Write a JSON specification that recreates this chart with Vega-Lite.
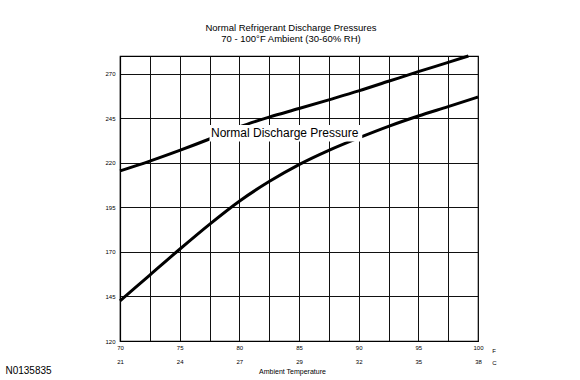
{
  "$schema": "https://vega.github.io/schema/vega-lite/v6.json",
  "width": 358,
  "height": 285,
  "autosize": {"type": "none"},
  "padding": {"left": 120, "top": 56, "right": 102, "bottom": 39},
  "background": "white",
  "config": {
    "font": "Liberation Sans",
    "view": {"stroke": "#000", "strokeWidth": 1.2}
  },
  "title": {
    "text": ["Normal Refrigerant Discharge Pressures", "70 - 100°F Ambient (30-60% RH)"],
    "fontSize": 9.5,
    "fontWeight": "normal",
    "color": "#000",
    "offset": 7,
    "lineHeight": 11,
    "dx": -8
  },
  "data": {
    "values": [
      {"series": "upper", "temp": 70, "pressure": 215.5},
      {"series": "upper", "temp": 72.5, "pressure": 221},
      {"series": "upper", "temp": 75, "pressure": 227},
      {"series": "upper", "temp": 77.5, "pressure": 233.4},
      {"series": "upper", "temp": 80, "pressure": 240.2},
      {"series": "upper", "temp": 82.5, "pressure": 245.7},
      {"series": "upper", "temp": 85, "pressure": 250.5},
      {"series": "upper", "temp": 87.5, "pressure": 255.4},
      {"series": "upper", "temp": 90, "pressure": 260.4},
      {"series": "upper", "temp": 92.5, "pressure": 265.8},
      {"series": "upper", "temp": 95, "pressure": 271.2},
      {"series": "upper", "temp": 97.5, "pressure": 276.4},
      {"series": "upper", "temp": 99.2, "pressure": 280},
      {"series": "lower", "temp": 70, "pressure": 142.5},
      {"series": "lower", "temp": 72.5, "pressure": 157},
      {"series": "lower", "temp": 75, "pressure": 171.5},
      {"series": "lower", "temp": 77.5, "pressure": 185.5},
      {"series": "lower", "temp": 80, "pressure": 198.5},
      {"series": "lower", "temp": 82.5, "pressure": 209.5},
      {"series": "lower", "temp": 85, "pressure": 219},
      {"series": "lower", "temp": 87.5, "pressure": 227},
      {"series": "lower", "temp": 90, "pressure": 234},
      {"series": "lower", "temp": 92.5, "pressure": 240.5},
      {"series": "lower", "temp": 95, "pressure": 246.3},
      {"series": "lower", "temp": 97.5, "pressure": 251.6},
      {"series": "lower", "temp": 100, "pressure": 257}
    ]
  },
  "layer": [
    {
      "mark": {"type": "line", "color": "#000", "strokeWidth": 3, "interpolate": "monotone"},
      "encoding": {
        "x": {
          "field": "temp",
          "type": "quantitative",
          "scale": {"domain": [70, 100], "nice": false, "zero": false},
          "axis": {
            "values": [70, 72.5, 75, 77.5, 80, 82.5, 85, 87.5, 90, 92.5, 95, 97.5, 100],
            "tickCount": 30,
            "labelExpr": "datum.value % 5 == 0 ? [format(datum.value, 'd'), format(round((datum.value - 32) * 5 / 9), 'd')] : ''",
            "labelLineHeight": 14,
            "labelFontSize": 6,
            "labelColor": "#000",
            "labelPadding": 3,
            "labelFlush": false,
            "labelOverlap": false,
            "ticks": false,
            "grid": true,
            "gridColor": "#111",
            "gridOpacity": 1,
            "gridWidth": 1,
            "domainColor": "#000",
            "domainWidth": 1.2,
            "title": "Ambient Temperature",
            "titleFontSize": 7,
            "titleFontWeight": "normal",
            "titleColor": "#000",
            "titlePadding": 3,
            "titleX": 172
          }
        },
        "y": {
          "field": "pressure",
          "type": "quantitative",
          "scale": {"domain": [120, 280], "nice": false, "zero": false},
          "axis": {
            "values": [120, 145, 170, 195, 220, 245, 270],
            "tickCount": 30,
            "labelFontSize": 6,
            "labelColor": "#000",
            "labelPadding": 5,
            "ticks": false,
            "grid": true,
            "gridColor": "#111",
            "gridOpacity": 1,
            "gridWidth": 1,
            "domainColor": "#000",
            "domainWidth": 1.2,
            "title": null
          }
        },
        "detail": {"field": "series"}
      }
    },
    {
      "data": {"values": [{}]},
      "mark": {"type": "rect", "fill": "white"},
      "encoding": {
        "x": {"datum": 77.5},
        "x2": {"datum": 90.3},
        "y": {"datum": 232},
        "y2": {"datum": 241.2}
      }
    },
    {
      "data": {"values": [{}]},
      "mark": {"type": "text", "fontSize": 12, "color": "#000", "align": "center", "baseline": "middle"},
      "encoding": {
        "x": {"datum": 83.8},
        "y": {"datum": 236.5},
        "text": {"value": "Normal Discharge Pressure"}
      }
    },
    {
      "data": {"values": [{}]},
      "mark": {"type": "text", "fontSize": 6, "color": "#000", "align": "left", "baseline": "middle"},
      "encoding": {
        "x": {"datum": 101.2},
        "y": {"datum": 114.4},
        "text": {"value": "F"}
      }
    },
    {
      "data": {"values": [{}]},
      "mark": {"type": "text", "fontSize": 6, "color": "#000", "align": "left", "baseline": "middle"},
      "encoding": {
        "x": {"datum": 101.2},
        "y": {"datum": 107.6},
        "text": {"value": "C"}
      }
    },
    {
      "data": {"values": [{}]},
      "mark": {"type": "text", "fontSize": 10, "color": "#000", "align": "left", "baseline": "middle"},
      "encoding": {
        "x": {"datum": 60.4},
        "y": {"datum": 103.2},
        "text": {"value": "N0135835"}
      }
    }
  ]
}
